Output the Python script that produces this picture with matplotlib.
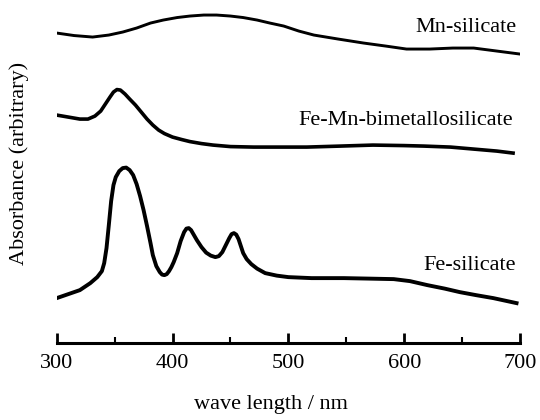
import matplotlib
matplotlib.use('Agg')
import matplotlib.pyplot as plt
from matplotlib.ticker import MultipleLocator

plt.rcParams['font.family'] = ['Liberation Serif', 'DejaVu Serif']

# Mn-silicate (arbitrary absorbance)
mn_wl = [300, 315, 331, 345, 357, 369, 381, 392, 404, 415, 427, 438, 450, 461, 473, 484, 496, 509, 522, 543, 565, 584, 602, 622, 642, 660, 680, 700]
mn_abs = [31.0, 30.75, 30.6, 30.8, 31.1, 31.5, 32.0, 32.3, 32.55, 32.7, 32.8, 32.8, 32.7, 32.55, 32.3, 32.0, 31.7, 31.2, 30.8, 30.4, 30.0, 29.7, 29.4, 29.4, 29.5, 29.5, 29.2, 28.9]

# Fe-Mn-bimetallosilicate
femn_wl = [300, 310, 320, 327, 333, 338, 342, 346, 349, 352, 355, 359, 363, 368, 373, 378, 383, 388, 393, 400, 408, 415, 425, 435, 450, 470, 490, 516, 545, 573, 600, 617, 640, 660, 680, 694]
femn_abs = [22.8, 22.6, 22.4, 22.4, 22.7, 23.2, 23.9, 24.6, 25.1, 25.35, 25.3, 24.9, 24.4, 23.8, 23.1, 22.4, 21.8, 21.3, 20.95, 20.6, 20.35, 20.15, 19.95, 19.8, 19.65, 19.6, 19.6, 19.6, 19.7, 19.8, 19.75, 19.7, 19.6, 19.4, 19.2, 19.0]

# Fe-silicate
fe_wl = [300, 310, 320, 329, 335, 339, 341, 343, 345, 347, 349, 351, 354, 357, 360, 363, 366, 369, 372, 375, 378, 381, 383, 386, 389, 391, 393, 395, 397, 399, 401,
         404, 407, 410, 412, 414, 416, 418, 421, 425, 429, 433, 437, 440, 443, 446, 449, 451, 453, 455, 457, 459, 461, 464, 468, 473, 480, 490, 500,
         520, 548, 570, 591, 605, 620, 635, 648, 662, 677, 697]
fe_abs = [4.5, 4.9, 5.3, 6.0, 6.6, 7.2, 8.0, 9.5, 11.8, 14.2, 15.8, 16.6, 17.2, 17.5, 17.55, 17.3, 16.8, 15.9, 14.7, 13.3, 11.7, 10.0, 8.8, 7.7, 7.1, 6.85, 6.8, 6.9, 7.2, 7.6, 8.1,
          9.0, 10.2, 11.1, 11.45, 11.5, 11.3, 10.9, 10.3, 9.6, 9.05, 8.75, 8.6, 8.7, 9.1, 9.8, 10.5, 10.9, 11.0, 10.85, 10.4, 9.7, 9.0, 8.4, 7.9, 7.45, 7.0, 6.75, 6.6,
          6.5, 6.5, 6.45, 6.4, 6.2, 5.8, 5.45, 5.1, 4.8, 4.5, 4.0]

fig = plt.figure(figsize=(5.4, 4.2), dpi=100)
ax = fig.add_axes([0.105, 0.183, 0.858, 0.805])

ax.plot(mn_wl, mn_abs, color='black', linewidth=2.1, solid_joinstyle='round')
ax.plot(femn_wl, femn_abs, color='black', linewidth=2.6, solid_joinstyle='round')
ax.plot(fe_wl, fe_abs, color='black', linewidth=2.8, solid_joinstyle='round')

ax.text(697, 31.1, 'Mn-silicate', ha='right', va='baseline', fontsize=16)
ax.text(694, 21.8, 'Fe-Mn-bimetallosilicate', ha='right', va='baseline', fontsize=16)
ax.text(696, 7.3, 'Fe-silicate', ha='right', va='baseline', fontsize=16)

ax.set_xlim(300, 700)
ax.set_ylim(0, 33.8)

for side in ['top', 'right', 'left']:
    ax.spines[side].set_visible(False)
ax.spines['bottom'].set_linewidth(2.2)
ax.set_yticks([])
ax.xaxis.set_major_locator(MultipleLocator(100))
ax.xaxis.set_minor_locator(MultipleLocator(50))
ax.tick_params(axis='x', which='major', direction='in', length=7, width=2, labelsize=16, pad=8)
ax.tick_params(axis='x', which='minor', direction='in', length=4, width=1.5)

fig.text(0.035, 0.61, 'Absorbance (arbitrary)', rotation=90, ha='center', va='center', fontsize=16)
fig.text(0.502, 0.036, 'wave length / nm', ha='center', va='center', fontsize=16)

fig.savefig('out.png', dpi=100)
